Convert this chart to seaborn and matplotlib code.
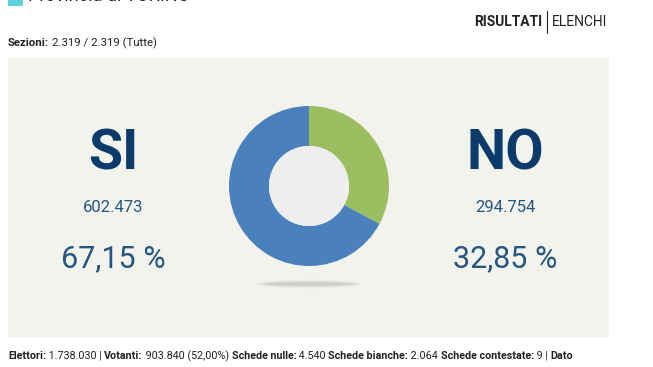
import matplotlib
matplotlib.use("Agg")
import matplotlib.pyplot as plt
from matplotlib.patches import Rectangle, Ellipse, Circle
import seaborn as sns

# ---- data ----
labels = ["SI", "NO"]
votes = [602473, 294754]
votes_txt = ["602.473", "294.754"]
pct_txt = ["67,15 %", "32,85 %"]
title_txt = "Provincia di TORINO"
sezioni_lbl = "Sezioni:"
sezioni_val = "2.319 / 2.319 (Tutte)"
footer_parts = [("Elettori:", True), (" 1.738.030 | ", False), ("Votanti:", True),
                (" 903.840 (52,00%) ", False), ("Schede nulle:", True), (" 4.540 ", False),
                ("Schede bianche:", True), (" 2.064 ", False), ("Schede contestate:", True),
                (" 9 | ", False), ("Dato", True)]

sns.set_style("white")
plt.rcParams['font.family'] = ['Roboto', 'DejaVu Sans']

W, H = 653, 367
fig = plt.figure(figsize=(W / 100, H / 100), dpi=100)
fig.patch.set_facecolor("white")

bg = fig.add_axes([0, 0, 1, 1])
bg.set_xlim(0, W)
bg.set_ylim(H, 0)
bg.axis("off")

PANEL = "#f3f3ee"
NAVY = "#0b3a6b"
VAL = "#24567f"
DARK = "#222222"

# panel
bg.add_patch(Rectangle((8, 58), 601, 280, facecolor=PANEL, edgecolor="none"))

# header
bg.add_patch(Rectangle((8, -10), 15, 16, facecolor="#5fd3dd", edgecolor="none"))
bg.text(28, 1, title_txt, fontsize=13, color=DARK, va="baseline", ha="left")
bg.text(542, 26, "RISULTATI", fontsize=10, fontweight="bold", color=DARK, ha="right", va="baseline")
bg.plot([547, 547], [11, 33], color=DARK, lw=0.8)
bg.text(552, 26, "ELENCHI", fontsize=10, color=DARK, ha="left", va="baseline")

t = bg.text(8, 46, sezioni_lbl, fontsize=8.2, fontweight="bold", color=DARK, va="baseline")
fig.canvas.draw()
r = fig.canvas.get_renderer()
bb = t.get_window_extent(r)
x = bb.x1 / fig.dpi * 100
bg.text(x + 2.5, 46, sezioni_val, fontsize=8.2, color=DARK, va="baseline")

# footer
x = 8
for txt, bold in footer_parts:
    tt = bg.text(x, 359, txt, fontsize=7.75, fontweight="bold" if bold else "normal",
                 color=DARK, va="baseline")
    fig.canvas.draw()
    bb = tt.get_window_extent(fig.canvas.get_renderer())
    x = bb.x1

# side texts
for cx, lab, vt, pt in [(113, labels[0], votes_txt[0], pct_txt[0]),
                         (505, labels[1], votes_txt[1], pct_txt[1])]:
    bg.text(cx, 170, lab, fontsize=40, fontweight="bold", color=NAVY, ha="center", va="baseline")
    bg.text(cx, 212, vt, fontsize=12, color=VAL, ha="center", va="baseline")
    bg.text(cx, 267, pt, fontsize=22, color=VAL, ha="center", va="baseline")

# shadow under the donut
for w, h, a in [(104, 9, 0.05), (100, 7, 0.08), (94, 5, 0.12), (86, 3.5, 0.15)]:
    bg.add_patch(Ellipse((309, 284), w, h, facecolor="#8a8a8a", alpha=a, edgecolor="none"))

# donut
cxp, cyp, R = 309, 186, 80
dax = fig.add_axes([(cxp - R) / W, (H - cyp - R) / H, 2 * R / W, 2 * R / H])
dax.set_facecolor("none")
dax.pie([votes[1], votes[0]], colors=["#9bbe61", "#4a80bb"], startangle=90,
        counterclock=False, radius=1, wedgeprops=dict(width=0.5, edgecolor="none"))
dax.add_patch(Circle((0, 0), 0.5, facecolor="#eeeeee", edgecolor="none"))
dax.set_xlim(-1, 1)
dax.set_ylim(-1, 1)
dax.set_aspect("equal")
dax.axis("off")

fig.savefig("out.png", dpi=100, facecolor="white")
